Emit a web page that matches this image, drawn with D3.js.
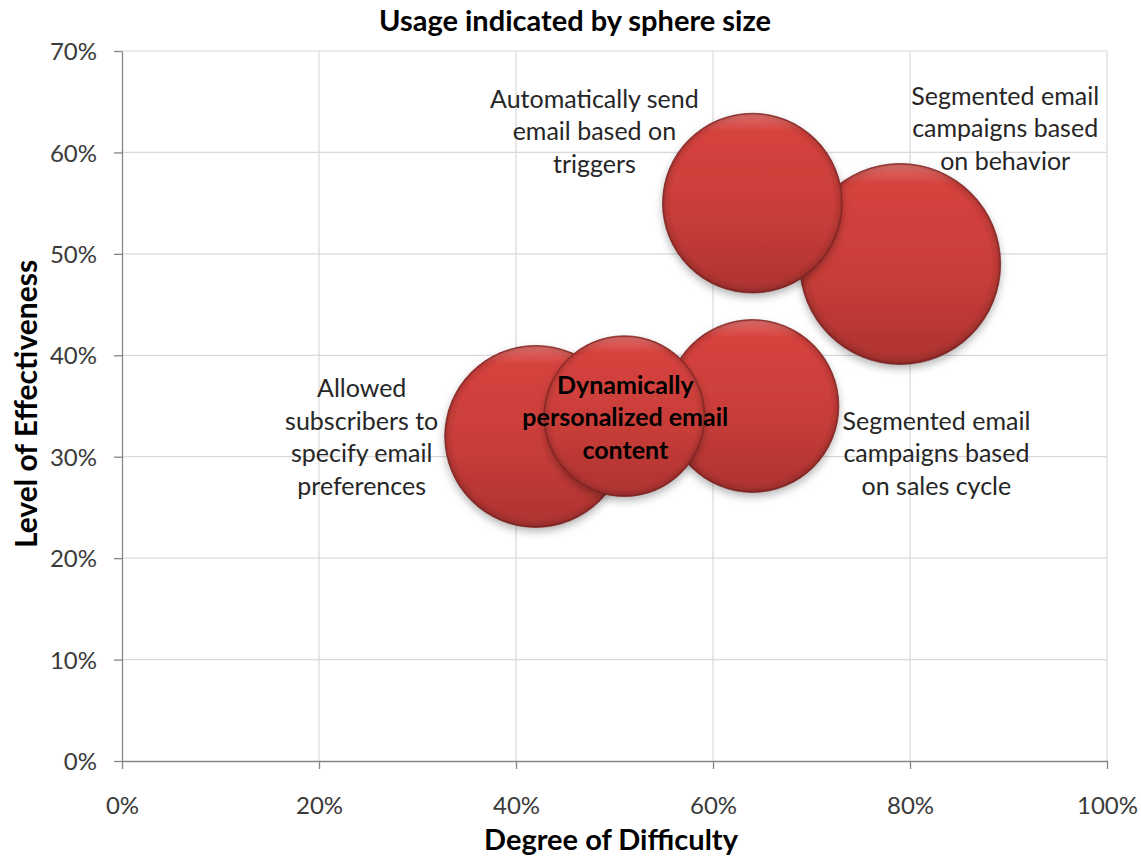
<!DOCTYPE html>
<html>
<head>
<meta charset="utf-8">
<script src="https://cdn.jsdelivr.net/npm/d3@7"></script>
<style>
  html, body { margin: 0; padding: 0; background: #fff; }
  svg { display: block; font-family: Lato, "Open Sans", sans-serif; }
</style>
</head>
<body>
<svg id="chart" width="1141" height="857"></svg>
<script>
// ---- Data ----
const labels = [
  ["Segmented email", "campaigns based", "on behavior"],
  ["Allowed", "subscribers to", "specify email", "preferences"],
  ["Automatically send", "email based on", "triggers"],
  ["Segmented email", "campaigns based", "on sales cycle"],
  ["Dynamically", "personalized email", "content"]
];
const difficulty    = [0.79, 0.42, 0.64, 0.64, 0.51];   // x
const effectiveness = [0.49, 0.32, 0.55, 0.35, 0.34];   // y
const usage         = [0.50, 0.41, 0.40, 0.37, 0.32];   // bubble size
const xTicks = [0, 0.2, 0.4, 0.6, 0.8, 1.0];
const yTicks = [0, 0.1, 0.2, 0.3, 0.4, 0.5, 0.6, 0.7];
const title = "Usage indicated by sphere size";
const xTitle = "Degree of Difficulty";
const yTitle = "Level of Effectiveness";

// ---- Layout ----
const W = 1141, H = 857;
const plot = { left: 122, right: 1107, top: 51, bottom: 761 };
const svg = d3.select("#chart");

const x = d3.scaleLinear().domain([0, 1]).range([plot.left, plot.right]);
const y = d3.scaleLinear().domain([0, 0.7]).range([plot.bottom, plot.top]);
const r = d3.scaleSqrt().domain([0, d3.max(usage)]).range([0, 100.5]);

// label placement (offsets in px from bubble centre), bold flag
const labelLayout = [
  { dx: 105, dy: -168, bold: false },
  { dx: -174, dy: -48, bold: false },
  { dx: -158, dy: -104, bold: false },
  { dx: 184, dy: 15, bold: false },
  { dx: 1, dy: -31, bold: true }
];

// defs
const defs = svg.append("defs");
const lg = defs.append("linearGradient").attr("id", "bfill")
  .attr("x1", 0).attr("y1", 0).attr("x2", 0).attr("y2", 1);
lg.append("stop").attr("offset", "0%").attr("stop-color", "#d9443f");
lg.append("stop").attr("offset", "55%").attr("stop-color", "#c93d39");
lg.append("stop").attr("offset", "100%").attr("stop-color", "#ad3330");

const rg = defs.append("radialGradient").attr("id", "bevel")
  .attr("cx", "50%").attr("cy", "50%").attr("r", "50%");
rg.append("stop").attr("offset", "90%").attr("stop-color", "#000").attr("stop-opacity", 0);
rg.append("stop").attr("offset", "97%").attr("stop-color", "#000").attr("stop-opacity", 0.1);
rg.append("stop").attr("offset", "100%").attr("stop-color", "#000").attr("stop-opacity", 0.35);

const hl = defs.append("linearGradient").attr("id", "hl")
  .attr("x1", 0).attr("y1", 0).attr("x2", 0).attr("y2", 1);
hl.append("stop").attr("offset", "0%").attr("stop-color", "#fff").attr("stop-opacity", 0.22);
hl.append("stop").attr("offset", "10%").attr("stop-color", "#fff").attr("stop-opacity", 0);
hl.append("stop").attr("offset", "100%").attr("stop-color", "#fff").attr("stop-opacity", 0);

const f = defs.append("filter").attr("id", "shadow")
  .attr("x", "-20%").attr("y", "-20%").attr("width", "140%").attr("height", "150%");
f.append("feDropShadow").attr("dx", 0).attr("dy", 4).attr("stdDeviation", 4)
  .attr("flood-color", "#000").attr("flood-opacity", 0.3);

// gridlines
svg.append("g").selectAll("line").data(yTicks.slice(1)).join("line")
  .attr("x1", plot.left).attr("x2", plot.right)
  .attr("y1", d => y(d)).attr("y2", d => y(d))
  .attr("stroke", "#d9d9d9").attr("stroke-width", 1.2);
svg.append("g").selectAll("line").data(xTicks.slice(1)).join("line")
  .attr("x1", d => x(d)).attr("x2", d => x(d))
  .attr("y1", plot.top).attr("y2", plot.bottom)
  .attr("stroke", "#d9d9d9").attr("stroke-width", 1.2);

// axes
const fmt = d3.format(".0%");
const yAxis = svg.append("g").attr("transform", `translate(${plot.left},0)`)
  .call(d3.axisLeft(y).tickValues(yTicks).tickFormat(fmt).tickSize(8).tickSizeOuter(0).tickPadding(17));
const xAxis = svg.append("g").attr("transform", `translate(0,${plot.bottom})`)
  .call(d3.axisBottom(x).tickValues(xTicks).tickFormat(fmt).tickSize(8).tickSizeOuter(0));
[yAxis, xAxis].forEach(a => {
  a.select(".domain").attr("stroke", "#868686").attr("stroke-width", 1.3);
  a.selectAll(".tick line").attr("stroke", "#868686").attr("stroke-width", 1.3);
  a.selectAll(".tick text").attr("fill", "#3a3a3a")
    .style("font-size", "24px").style("font-family", "Lato, 'Open Sans', sans-serif");
});
yAxis.selectAll(".tick text").attr("x", -25).attr("dy", "0.36em");
xAxis.selectAll(".tick text").attr("y", 44).attr("dy", "0.36em");

// bubbles
const data = labels.map((l, i) => ({ l, x: difficulty[i], y: effectiveness[i], s: usage[i], lay: labelLayout[i] }));
const order = data.slice().sort((a, b) => b.s - a.s);
const bg = svg.append("g");
order.forEach(d => {
  const g = bg.append("g").attr("transform", `translate(${x(d.x)},${y(d.y)})`);
  const rr = r(d.s);
  g.append("circle").attr("r", rr).attr("fill", "url(#bfill)").attr("filter", "url(#shadow)");
  g.append("circle").attr("r", rr).attr("fill", "url(#bevel)");
  g.append("circle").attr("r", rr - 1).attr("fill", "url(#hl)");
  g.append("circle").attr("r", rr).attr("fill", "none").attr("stroke", "#7a2220").attr("stroke-width", 1).attr("stroke-opacity", 0.7);
});

// labels
const lgp = svg.append("g");
data.forEach(d => {
  const cx = x(d.x) + d.lay.dx, cy = y(d.y) + d.lay.dy;
  const t = lgp.append("text").attr("text-anchor", "middle")
    .attr("fill", d.lay.bold ? "#000" : "#262626")
    .style("font-size", "25px").style("font-weight", d.lay.bold ? 700 : 400);
  d.l.forEach((line, k) => {
    t.append("tspan").attr("x", cx).attr("y", cy + k * 32.5).attr("dy", "0.35em").text(line);
  });
});

// titles
svg.append("text").attr("x", 575).attr("y", 21).attr("dy", "0.35em")
  .attr("text-anchor", "middle").style("font-size", "29px").style("font-weight", 700)
  .attr("fill", "#000").text(title);
svg.append("text").attr("x", 611).attr("y", 840).attr("dy", "0.35em")
  .attr("text-anchor", "middle").style("font-size", "29px").style("font-weight", 700)
  .attr("fill", "#000").text(xTitle);
svg.append("text").attr("transform", "translate(26,404) rotate(-90)").attr("dy", "0.35em")
  .attr("text-anchor", "middle").style("font-size", "30px").style("font-weight", 700)
  .attr("fill", "#000").text(yTitle);
</script>
</body>
</html>
